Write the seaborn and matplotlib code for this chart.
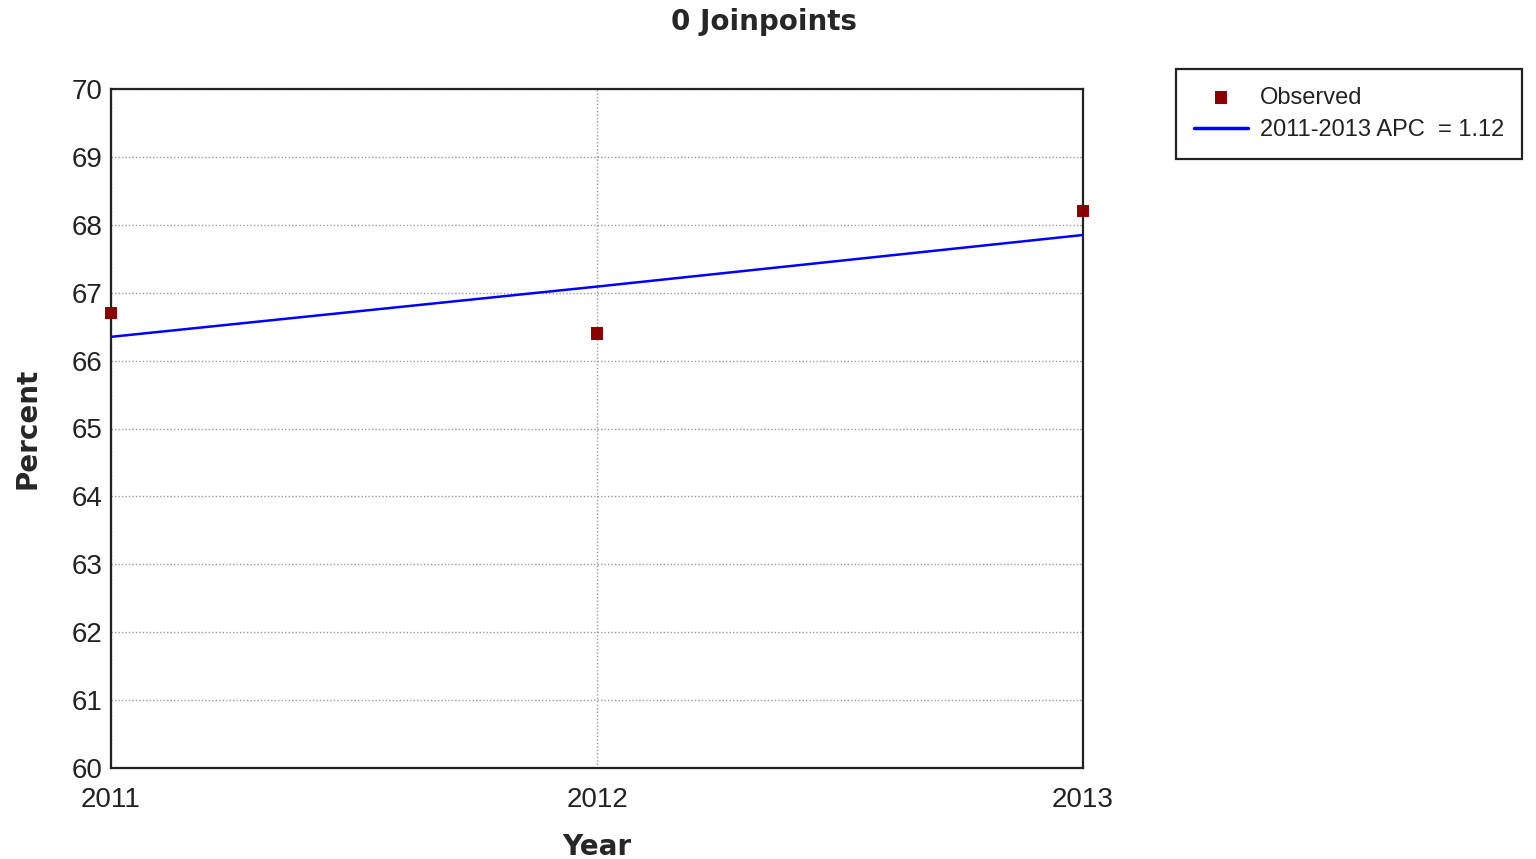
import matplotlib
matplotlib.use("Agg")
import matplotlib.pyplot as plt
import seaborn as sns
import pandas as pd

years = [2011, 2012, 2013]
observed = [66.7, 66.4, 68.2]
fitted = [66.35, 67.09, 67.85]
y_ticks = [60, 61, 62, 63, 64, 65, 66, 67, 68, 69, 70]
x_ticks = [2011, 2012, 2013]
title = "0 Joinpoints"
obs_label = "Observed"
fit_label = "2011-2013 APC  = 1.12"

sns.set_theme(style="white")
plt.rcParams["font.family"] = ["Liberation Sans", "DejaVu Sans"]

df_obs = pd.DataFrame({"Year": years, "Percent": observed})
df_fit = pd.DataFrame({"Year": years, "Percent": fitted})

fig = plt.figure(figsize=(15.36, 8.59), dpi=100)
ax = fig.add_axes([111 / 1536, 1 - 768 / 859, (1083 - 111) / 1536, (768 - 89) / 859])

# fitted trend and observed points
sns.lineplot(data=df_fit, x="Year", y="Percent", ax=ax, color="#0000FF",
             linewidth=1.8, label=fit_label, zorder=3)
sns.scatterplot(data=df_obs, x="Year", y="Percent", ax=ax, color="#8B0000",
                marker="s", s=80, edgecolor="none", label=obs_label, zorder=4,
                clip_on=False)

ax.set_xlim(2011, 2013)
ax.set_ylim(60, 70)
ax.set_xticks(x_ticks)
ax.set_yticks(y_ticks)
ax.set_xticklabels([str(v) for v in x_ticks], fontsize=20, color="#222222")
ax.set_yticklabels([str(v) for v in y_ticks], fontsize=20, color="#222222")
ax.tick_params(axis="both", length=0, pad=6)
ax.tick_params(axis="x", pad=14)

ax.grid(True, linestyle=(0, (1, 1.5)), color="#9a9a9a", linewidth=1.0)
for s in ax.spines.values():
    s.set_color("#222222")
    s.set_linewidth(1.6)

ax.set_xlabel("Year", fontsize=20, fontweight="bold", family="DejaVu Sans", labelpad=14)
ax.set_ylabel("Percent", fontsize=20, fontweight="bold", family="DejaVu Sans", labelpad=22)
fig.text(764 / 1536, 1 - 22 / 859, title, ha="center", va="center",
         fontsize=20, fontweight="bold", family="DejaVu Sans")

handles, labels = ax.get_legend_handles_labels()
order = [labels.index(obs_label), labels.index(fit_label)]
leg = ax.legend([handles[i] for i in order], [labels[i] for i in order],
                loc="upper left", bbox_to_anchor=(1176 / 1536, 1 - 69 / 859),
                bbox_transform=fig.transFigure, fontsize=17, frameon=True,
                fancybox=False, edgecolor="#222222", framealpha=1,
                handlelength=2.3, handletextpad=0.5, borderpad=0.75,
                labelspacing=0.45, borderaxespad=0)
leg.get_frame().set_linewidth(1.6)
leg.get_lines()[0].set_linewidth(2.5) if leg.get_lines() else None
for t in leg.get_texts():
    t.set_color("#222222")

fig.savefig("out.png", dpi=100)
